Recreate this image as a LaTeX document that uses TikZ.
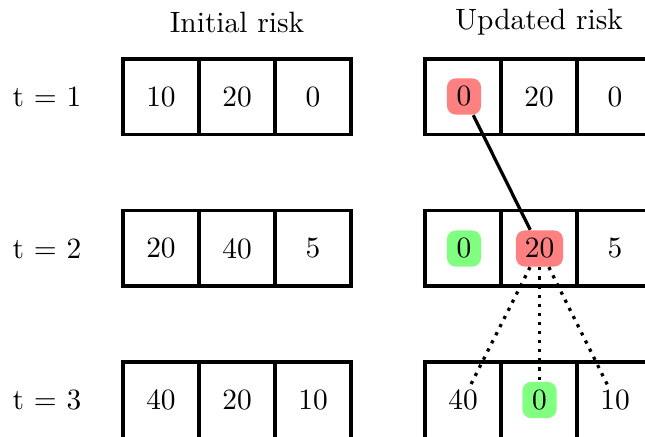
\documentclass[tikz,border=0pt]{standalone}
\begin{document}
\begin{tikzpicture}[x=0.34pt,y=-0.34pt,
  grid/.style={line width=1.15pt},
  val/.style={inner sep=0pt},
  hl/.style={rounded corners=3pt, inner xsep=3pt, inner ysep=0pt,
             minimum width=11.6pt, minimum height=12.3pt},
  redhl/.style={hl, fill=red!50},
  greenhl/.style={hl, fill=green!50},
  link/.style={line width=1.1pt},
  dotlink/.style={line width=1.1pt, dotted}]
\useasboundingbox (0,0) rectangle (645,437);
\clip (0,0) rectangle (645,437);
% titles
\node (title1) at (237,22) {Initial risk};
\node (title2) at (539,22) {Updated risk};
% time labels
\node (t1) at (47,97) {t = 1};
\node (t2) at (47,248.5) {t = 2};
\node (t3) at (47,400) {t = 3};
% grids
\foreach \top/\bot in {59/134.5, 210.5/286, 362/439}{
  \draw[grid] (123,\top) rectangle (351,\bot);
  \draw[grid] (199,\top) -- (199,\bot);
  \draw[grid] (275,\top) -- (275,\bot);
  \draw[grid] (425,\top) rectangle (655,\bot);
  \draw[grid] (501,\top) -- (501,\bot);
  \draw[grid] (577,\top) -- (577,\bot);
}
% initial risk values
\node[val] (l1a) at (161,97) {10};
\node[val] (l1b) at (237,97) {20};
\node[val] (l1c) at (313,97) {0};
\node[val] (l2a) at (161,248.5) {20};
\node[val] (l2b) at (237,248.5) {40};
\node[val] (l2c) at (313,248.5) {5};
\node[val] (l3a) at (161,400) {40};
\node[val] (l3b) at (237,400) {20};
\node[val] (l3c) at (313,400) {10};
% updated risk values
\node[redhl] (r1a) at (464,96.5) {0};
\node[val] (r1b) at (539,97) {20};
\node[val] (r1c) at (615,97) {0};
\node[greenhl] (r2a) at (464,248.5) {0};
\node[redhl] (r2b) at (539.5,248.5) {20};
\node[val] (r2c) at (615,248.5) {5};
\node[val] (r3a) at (463,400) {40};
\node[greenhl] (r3b) at (539.5,400) {0};
\node[val] (r3c) at (615,400) {10};
% connectors
\draw[link] (r1a) -- (r2b);
\draw[dotlink] (r2b) -- (r3a);
\draw[dotlink] (r2b) -- (r3b);
\draw[dotlink] (r2b) -- (r3c);
\end{tikzpicture}
\end{document}
